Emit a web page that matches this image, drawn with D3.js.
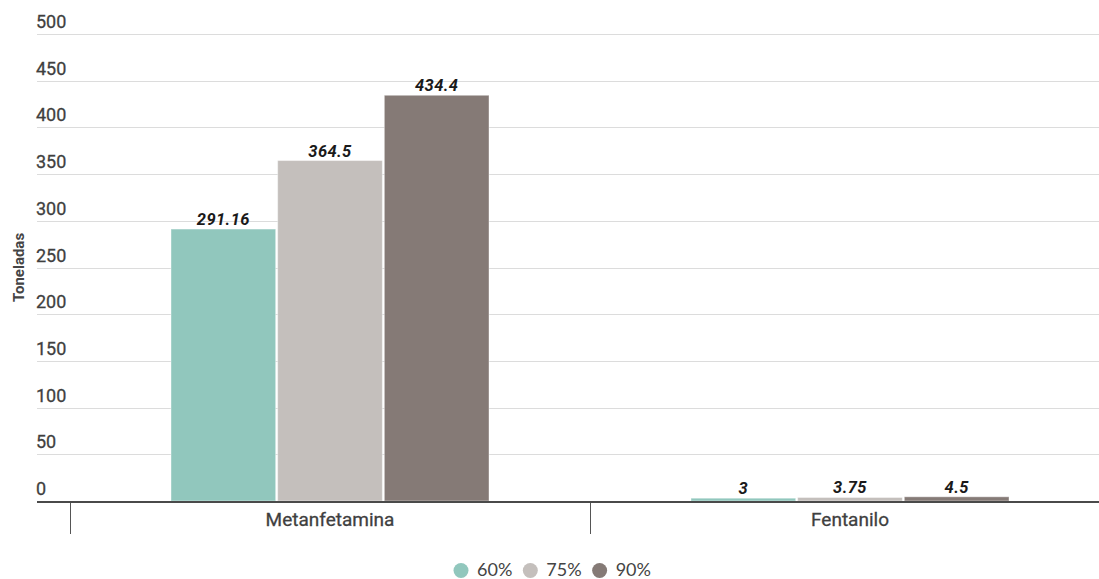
<!DOCTYPE html>
<html>
<head>
<meta charset="utf-8">
<script src="https://cdn.jsdelivr.net/npm/d3@7"></script>
<style>
  html, body { margin: 0; padding: 0; background: #fff; }
  svg { display: block; font-family: Roboto, "Noto Sans", sans-serif; }
</style>
</head>
<body>
<svg id="chart" width="1099" height="579"></svg>
<script>
// Drug categories and the three scenario series (toneladas)
const categories = ["Metanfetamina", "Fentanilo"];
const seriesNames = ["60%", "75%", "90%"];
const values60 = [291.16, 3];
const values75 = [364.5, 3.75];
const values90 = [434.4, 4.5];
const valueLabels60 = ["291.16", "3"];
const valueLabels75 = ["364.5", "3.75"];
const valueLabels90 = ["434.4", "4.5"];
const yTicks = [0, 50, 100, 150, 200, 250, 300, 350, 400, 450, 500];
const colors = ["#91c7bd", "#c4bfbc", "#857a76"];

const series = [values60, values75, values90];
const labels = [valueLabels60, valueLabels75, valueLabels90];

const svg = d3.select("#chart");
const W = 1099;

const y = d3.scaleLinear().domain([0, 500]).range([501, 34]);
const x0 = d3.scaleBand().domain(categories).range([70, 1110]).paddingInner(0).paddingOuter(0);
const x1 = d3.scaleBand().domain(seriesNames).range([100, x0.bandwidth() - 100]).padding(0);

// Horizontal gridlines with tick labels sitting above them
const grid = svg.append("g");
grid.selectAll("line").data(yTicks.filter(d => d > 0)).join("line")
  .attr("x1", 37).attr("x2", W)
  .attr("y1", d => Math.round(y(d)) + 0.5).attr("y2", d => Math.round(y(d)) + 0.5)
  .attr("stroke", "#dcdcdc").attr("stroke-width", 1);
grid.selectAll("text").data(yTicks).join("text")
  .attr("x", 36).attr("y", d => y(d) - 6)
  .attr("font-size", 18).attr("fill", "#3f3f3f")
  .attr("stroke", "#3f3f3f").attr("stroke-width", 0.3)
  .text(d => d);

// Y axis title
svg.append("text")
  .attr("transform", `translate(24,${y(250)}) rotate(-90)`)
  .attr("text-anchor", "middle")
  .attr("font-size", 15).attr("font-weight", "bold").attr("fill", "#444")
  .text("Toneladas");

// Grouped bars
const groups = svg.append("g").selectAll("g").data(categories).join("g")
  .attr("transform", d => `translate(${x0(d)},0)`);

seriesNames.forEach((s, si) => {
  groups.append("rect")
    .attr("x", x1(s) + 1)
    .attr("width", x1.bandwidth() - 2)
    .attr("y", (d, i) => y(series[si][i]))
    .attr("height", (d, i) => y(0) - y(series[si][i]))
    .attr("fill", colors[si])
    .attr("stroke", "#ffffff").attr("stroke-opacity", 0.4).attr("stroke-width", 1);
  groups.append("text")
    .attr("x", x1(s) + x1.bandwidth() / 2)
    .attr("y", (d, i) => y(series[si][i]) - 4)
    .attr("text-anchor", "middle")
    .attr("font-size", 16.5).attr("font-weight", "bold").attr("font-style", "italic")
    .attr("letter-spacing", 0.4)
    .attr("fill", "#1a1a1a")
    .text((d, i) => labels[si][i]);
});

// Baseline and category axis
svg.append("line")
  .attr("x1", 37).attr("x2", W).attr("y1", y(0) + 1).attr("y2", y(0) + 1)
  .attr("stroke", "#4a4a4a").attr("stroke-width", 2);

const xAxis = svg.append("g");
const boundaries = categories.map(c => x0(c)).concat([x0(categories[categories.length - 1]) + x0.bandwidth()]);
xAxis.selectAll("line").data(boundaries).join("line")
  .attr("x1", d => d + 0.5).attr("x2", d => d + 0.5)
  .attr("y1", y(0) + 2).attr("y2", 534)
  .attr("stroke", "#555").attr("stroke-width", 1);
xAxis.selectAll("text").data(categories).join("text")
  .attr("x", d => x0(d) + x0.bandwidth() / 2)
  .attr("y", 526)
  .attr("text-anchor", "middle")
  .attr("font-size", 19).attr("fill", "#3f3f3f")
  .attr("stroke", "#3f3f3f").attr("stroke-width", 0.3)
  .text(d => d);

// Legend: swatch circle, then label, items laid out left to right
const legend = svg.append("g").attr("font-family", "Lato, Roboto, sans-serif");
const legendItems = legend.selectAll("g").data(seriesNames).join("g");
legendItems.append("circle").attr("r", 7.5).attr("cy", 0).attr("fill", (d, i) => colors[i]);
legendItems.append("text").attr("x", 16).attr("y", 5.5)
  .attr("font-size", 18).attr("fill", "#444").text(d => d);
const textWidths = [];
legendItems.select("text").each(function () { textWidths.push(this.getComputedTextLength()); });
let startX = 461;
legendItems.attr("transform", (d, i) => {
  const t = `translate(${startX},570.5)`;
  startX += 16 + textWidths[i] + 18;
  return t;
});
</script>
</body>
</html>
